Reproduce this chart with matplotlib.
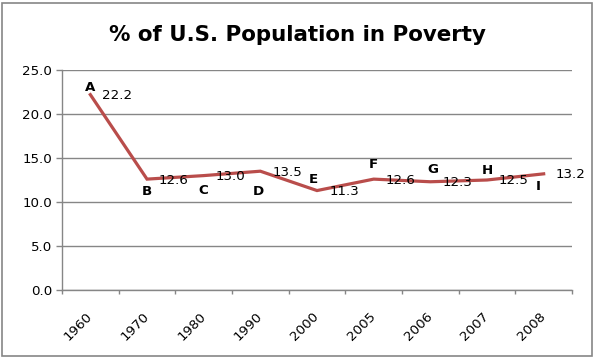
import matplotlib
matplotlib.use("Agg")
import matplotlib.pyplot as plt
from matplotlib.patches import Rectangle

years = ["1960", "1970", "1980", "1990", "2000", "2005", "2006", "2007", "2008"]
poverty = [22.2, 12.6, 13.0, 13.5, 11.3, 12.6, 12.3, 12.5, 13.2]
letters = ["A", "B", "C", "D", "E", "F", "G", "H", "I"]
# letter label offsets (pixels, x right / y up) relative to each point
letter_dx = [0, 0, 0, -2, -4, 0, 3, 0, -5]
letter_dy = [7, -12, -15, -20, 11, 15, 12, 10, -13]
yticks = [0, 5, 10, 15, 20, 25]

W, H = 593, 357
fig = plt.figure(figsize=(W / 100, H / 100), dpi=100)
fig.patch.set_facecolor("white")

# outer border
fig.add_artist(Rectangle((2 / W, 1 / H), 589.5 / W, 353 / H, transform=fig.transFigure,
                         fill=False, edgecolor="#868686", linewidth=1.2))

L, R, T, B = 62, 572, 70, 290
ax = fig.add_axes([L / W, (H - B) / H, (R - L) / W, (B - T) / H])

grid_c = "#868686"
x = list(range(len(years)))
ax.plot(x, poverty, color="#B94D4B", linewidth=2.3, solid_joinstyle="miter", zorder=3)

ax.set_xlim(-0.5, len(years) - 0.5)
ax.set_ylim(0, 25)
ax.set_yticks(yticks)
ax.set_yticklabels([f"{v:.1f}" for v in yticks])
ax.yaxis.grid(True, color=grid_c, linewidth=1.0)
ax.set_axisbelow(True)

for s in ["top", "right"]:
    ax.spines[s].set_visible(False)
for s in ["left", "bottom"]:
    ax.spines[s].set_color(grid_c)
    ax.spines[s].set_linewidth(1.0)

# x ticks at category boundaries, labels at centers
ax.set_xticks([i - 0.5 for i in range(len(years) + 1)])
ax.set_xticklabels([])
ax.set_xticks(x, minor=True)
ax.set_xticklabels(years, minor=True, rotation=45, ha="right", va="center",
                   rotation_mode="anchor", fontsize=9.6, family="DejaVu Sans")
ax.tick_params(axis="x", which="major", length=3, color=grid_c, width=1.0, direction="out")
ax.tick_params(axis="x", which="minor", length=0, pad=17.5)
ax.tick_params(axis="y", length=4, color=grid_c, width=1.0, labelsize=9.6, pad=3)

for i, (v, lab) in enumerate(zip(poverty, letters)):
    ax.annotate(f"{v:.1f}", (i, v), xytext=(27, -1), textcoords="offset pixels",
                ha="center", va="center", fontsize=9.6, color="black")
    ax.annotate(lab, (i, v), xytext=(letter_dx[i], letter_dy[i]), textcoords="offset pixels",
                ha="center", va="center", fontsize=9.6, fontweight="bold", color="black")

fig.text(297 / W, 1 - 35 / H, "% of U.S. Population in Poverty", ha="center", va="center",
         fontsize=15.4, fontweight="bold", family="DejaVu Sans")

fig.savefig("out.png", dpi=100)
